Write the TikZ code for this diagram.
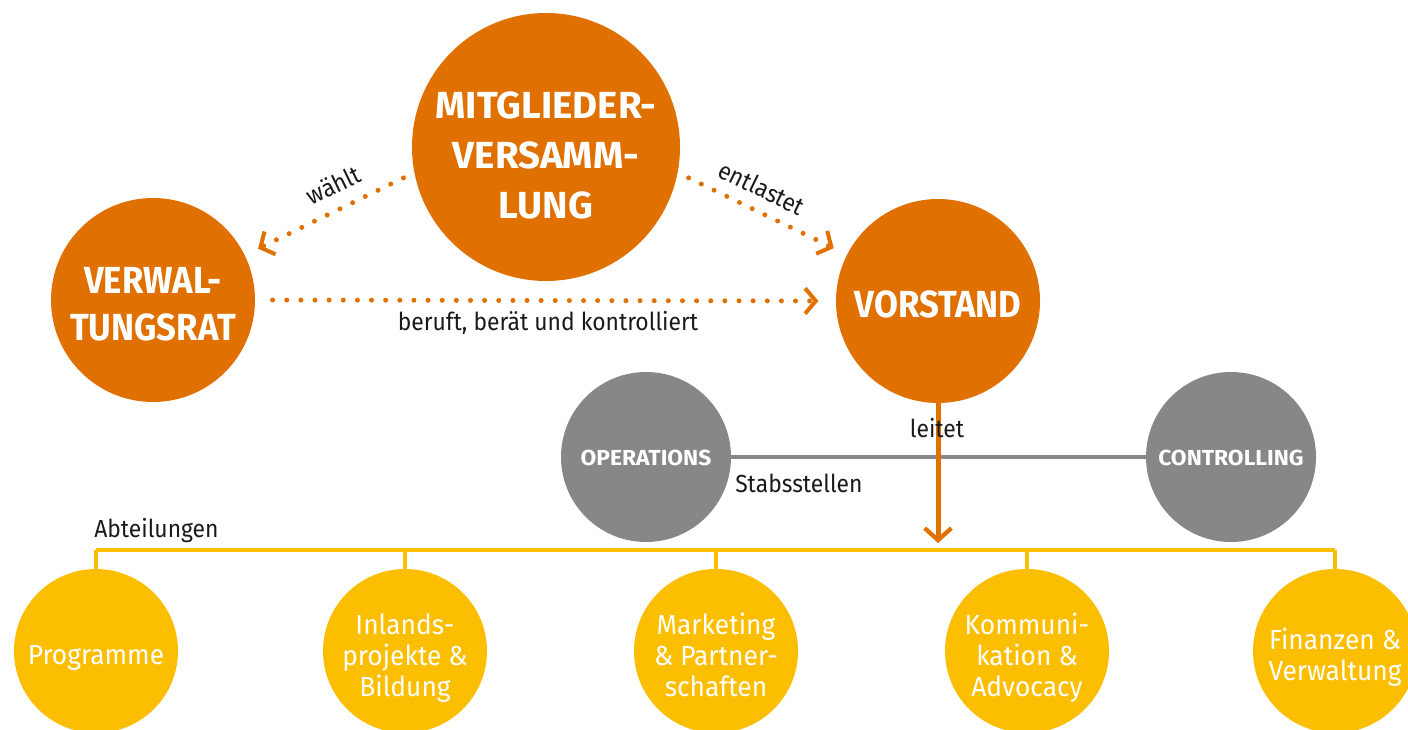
\documentclass[tikz,border=0pt]{standalone}
\usepackage{fontspec}
\setmainfont{Fira Sans}[FakeStretch=0.927]
\newfontfamily\ylfont{Fira Sans}[FakeStretch=0.955]
\newfontfamily\hdA{Fira Sans}[FakeStretch=1.02]
\newfontfamily\hdB{Fira Sans}[FakeStretch=0.92]
\newfontfamily\hdC{Fira Sans}[FakeStretch=1.05]
\usetikzlibrary{arrows.meta}
\definecolor{org}{HTML}{E07000}
\definecolor{gry}{HTML}{878787}
\definecolor{ylw}{HTML}{FBBE00}
\definecolor{txt}{HTML}{1A1A1A}
\newcommand{\ctext}[2]{\raisebox{#1}[\height][\depth]{\begin{tabular}{@{}c@{}}#2\end{tabular}}}
\tikzset{
  bigc/.style={circle, fill=org, inner sep=0pt, text=white, font=\hdA\bfseries\fontsize{28.3}{37.5}\selectfont, minimum size=201pt},
  midc/.style={circle, fill=org, inner sep=0pt, text=white, font=\hdB\bfseries\fontsize{28.3}{35.25}\selectfont, minimum size=153pt},
  grc/.style={circle, fill=gry, inner sep=0pt, text=white, font=\hdC\bfseries\fontsize{16.3}{20}\selectfont, minimum size=127.5pt},
  ylc/.style={circle, fill=ylw, inner sep=0pt, text=white, font=\ylfont\fontsize{20.7}{23.25}\selectfont, minimum size=123pt},
  lbl/.style={text=txt, font=\fontsize{18.5}{22}\selectfont, inner sep=0pt},
  dotarrow/.style={draw=org, line width=3.75pt, line cap=round, dash pattern=on 0pt off 10.6pt,
    -{Straight Barb[length=8pt, width=19pt, line width=3pt]}},
  barline/.style={draw=ylw, line width=3pt},
}
\begin{document}
\begin{tikzpicture}[x=0.75pt, y=-0.75pt]
\useasboundingbox (0,0) rectangle (1408,730);
% nodes
\node[bigc] (mv) at (546,147) {\ctext{-8.6pt}{MITGLIEDER-\\VERSAMM-\\LUNG}};
\node[midc] (vr) at (153,300) {\ctext{-5.6pt}{VERWAL-\\TUNGSRAT}};
\node[midc] (vs) at (938,301) {\ctext{-5pt}{VORSTAND}};
\node[grc] (op) at (646,457) {\ctext{-2.7pt}{OPERATIONS}};
\node[grc] (co) at (1231,457) {\ctext{-2.7pt}{CONTROLLING}};
\node[ylc] (y1) at (96,651) {\ctext{-5.6pt}{Programme}};
\node[ylc] (y2) at (405,651) {\ctext{-6.2pt}{Inlands-\\projekte \&\\Bildung}};
\node[ylc] (y3) at (716,651) {\ctext{-6.2pt}{Marketing\\\& Partner-\\schaften}};
\node[ylc] (y4) at (1027,651) {\ctext{-6.2pt}{Kommuni-\\kation \&\\Advocacy}};
\node[ylc] (y5) at (1335,651) {\ctext{-5.6pt}{Finanzen \&\\Verwaltung}};
% dotted connectors
\draw[dotarrow, shorten <=9pt, shorten >=11pt] (mv.191) -- (vr.26);
\draw[dotarrow, shorten <=9pt, shorten >=11pt] (mv.349) -- (vs.153);
\draw[dotarrow, shorten <=13pt, shorten >=13pt] (vr.0) -- (vs.180);
\node[lbl, rotate=26] (lw) at (333,185) {wählt};
\node[lbl, rotate=-26] (le) at (762,188) {entlastet};
\node[lbl] (lb) at (548,323) {beruft, berät und kontrolliert};
% Stabsstellen
\draw[draw=gry, line width=3pt] (op) -- (co);
\node[lbl, anchor=west] (ls) at (735,483) {Stabsstellen};
% Abteilungen bar
\coordinate (b1) at (96,550);
\coordinate (b5) at (1335,550);
\draw[barline] (b1) -- (b5);
\foreach \i/\x in {1/96,2/405,3/716,4/1027,5/1335}{
  \coordinate (t\i) at (\x,550);
  \draw[barline] (t\i) -- (y\i.north);
}
\node[lbl, anchor=west] (la) at (94,531) {Abteilungen};
% leitet
\coordinate (lt) at (938,543);
\draw[draw=org, line width=3.75pt, -{Straight Barb[length=9pt, width=20pt, line width=3.2pt]}] (vs.south) -- (lt);
\node[lbl] (ll) at (937,428) {leitet};
\end{tikzpicture}
\end{document}
